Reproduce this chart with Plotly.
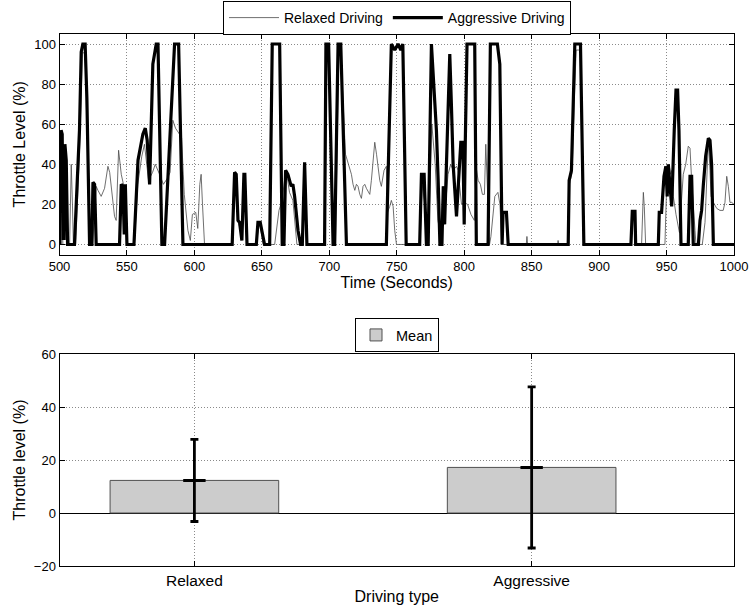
import plotly.graph_objects as go

# ---------------- data ----------------
relaxed_time = [500, 501.5, 502, 502.5, 507.5, 508.7, 509.6, 510.3, 512, 515, 517, 519, 521, 522.5,
                524.5, 527.2, 528.5, 530.9, 533.4, 535.9, 537.2, 540.8, 542, 543.8, 545.8, 547.5, 549, 550.5,
                555.5, 558, 561, 563, 566, 569, 571, 574.2, 577, 580, 582, 584, 586, 589, 590.5, 592.5,
                595.2, 597, 598.5, 601, 602.5, 604, 605, 606, 607.5,
                628.3, 629.8, 631, 632.5, 635, 636.8, 637.5, 639, 646.2, 647.5, 648.6, 651,
                659.5, 662.7, 665, 667, 668.5, 670.5, 673, 676, 680.2, 681.7, 683.2,
                696.8, 698, 699.5, 702.5, 704.5, 707, 708.5, 712, 714, 716.4, 717.6, 718.9, 720.1, 721.3,
                722.6, 723.8, 725, 726.3, 727.5, 730, 731.2, 733.7, 735, 737.4, 738.6, 740.6, 742.3,
                743.1, 744.8, 746, 747.3, 748.5, 749.8,
                767.3, 768.8, 770.5, 772, 773.5, 776, 778.5, 780.5, 782.5, 784.4, 786, 788, 790, 791.8,
                794.3, 795.5, 797, 798, 800, 802.5, 805, 807.5, 808.5, 809.2, 810.3, 812, 813.5, 815,
                816, 816.7, 818, 818.8, 819.8, 822.7, 825, 826.5, 827.8,
                846, 846.5, 847, 869.3, 869.6, 870,
                877.3, 878, 880, 881.5, 883, 886, 888.3,
                923.8, 924.8, 926.4, 926.9, 931.5, 932.8, 933.5, 934, 934.5,
                948.8, 950.5, 951.8, 953, 954, 955, 957, 959.5, 960.5, 961, 962.4, 964.2, 966.1, 967.4,
                968.6, 969.8, 971.1, 971.8, 976.5, 978.5, 981, 982.2, 983, 984.7, 987.2, 989.6, 992,
                993.3, 994.6, 995.8, 997, 998.3, 1000]
relaxed_throttle = [0, 0, 15, 0, 0, 40, 20, 0, 0, 50, 96, 95, 40, 0,
                    0, 29, 27, 24, 28, 39, 36, 14, 12, 47, 35, 30, 25, 0,
                    0, 30, 44, 50, 32, 36, 40, 35, 30, 33, 36, 62, 58, 55, 53, 25,
                    7, 2, 15, 16, 8, 30, 35, 20, 0,
                    0, 33, 33, 12, 4, 33, 33, 0, 0, 10, 10, 0,
                    0, 17, 22, 33, 35, 26, 22, 0, 0, 38, 0,
                    0, 97, 96, 0, 0, 97, 96, 45, 40, 35, 30, 27, 30, 29,
                    25, 23, 29, 30, 28, 25, 32, 51, 45, 32, 29, 37, 39,
                    16, 19, 22, 19, 7, 0,
                    0, 30, 22, 0, 0, 60, 40, 12, 5, 29, 18, 35, 40, 37,
                    39, 37, 25, 20, 21, 20, 15, 12, 30, 37, 32, 30, 25, 25,
                    50, 38, 10, 0, 4, 24, 26, 20, 0,
                    0, 4, 0, 0, 2, 0,
                    0, 30, 36, 70, 97, 97, 0,
                    0, 15, 15, 0, 0, 26, 19, 7, 0,
                    0, 39, 40, 35, 37, 24, 15, 6, 6, 21, 35, 40, 49, 48,
                    32, 17, 7, 0, 0, 11, 52, 37, 24, 21, 18, 17, 17,
                    21, 34, 29, 21, 21, 20]

aggressive_time = [500, 500.4, 501.2, 502, 502.7, 503.4, 504, 505, 506,
                   511.1, 514.8, 516.1, 517.3, 519, 520.3, 522.3, 524, 524.8, 526, 527.2,
                   544.5, 545.8, 547, 548, 548.8, 550,
                   555.2, 558.2, 561.8, 563.6, 565, 566.8, 569.2, 571.7, 573, 575.9,
                   577.9, 582.8, 585.3, 588.3, 591.5,
                   628, 629.8, 631, 632.3, 633.5, 635.2, 636.7, 637.4, 639,
                   645.9, 647.1, 648.8, 652, 655.8, 657.7, 663.2, 665.1,
                   666.4, 667.6, 669.3, 671.8, 673, 674.3, 676.8, 678.7, 680, 681.7, 683.4,
                   696.5, 697.5, 699.5, 702.8, 704, 706.5, 708.5, 712.7,
                   742.3, 746, 748.5, 751, 753, 754.5, 757,
                   767, 768.3, 770.3, 772, 773.3, 775.7, 778.2, 779.4, 780.7, 782,
                   783.5, 784.5, 785.5, 786.5, 787.8, 789.3, 790.5, 791.8, 794.3, 796, 797.5, 799, 800,
                   800.8, 802.1, 807.8, 809, 817.7, 819.4, 824.6, 826.4, 828.1, 828.8, 831.3, 832.6,
                   877.1, 877.8, 879.5, 881, 882, 886.2, 888.7,
                   923.6, 924.6, 926.6, 927.1,
                   943.9, 944.6, 946.3, 948.1, 949.5, 950.5, 951.3, 952.5, 953.8, 955.7, 957, 958.2,
                   959.2, 960.7, 966.1, 967.4, 968.6, 969.8,
                   973.6, 974.8, 976, 977.3, 979, 981, 982.2, 983.4, 984.7, 1000]
aggressive_throttle = [0, 45, 57, 55, 3, 3, 50, 42, 0,
                       0, 57, 96, 100, 100, 73, 0, 0, 31, 30, 0,
                       0, 30, 29, 5, 30, 0,
                       0, 42, 55, 58, 52, 30, 90, 100, 100, 0,
                       0, 63, 100, 100, 0,
                       0, 36, 35, 12, 11, 2, 35, 35, 0,
                       0, 11, 11, 0, 0, 100, 100, 0,
                       0, 37, 35, 29, 30, 24, 7, 0, 0, 41, 0,
                       0, 100, 100, 0, 0, 100, 100, 0,
                       0, 100, 97, 100, 97, 100, 0,
                       0, 35, 35, 0, 0, 100, 73, 57, 32, 0,
                       0, 29, 10, 30, 60, 95, 70, 40, 14, 35, 51, 51, 10,
                       51, 100, 100, 0, 0, 100, 100, 90, 0, 16, 16, 0,
                       0, 32, 37, 70, 100, 100, 0,
                       0, 16.5, 16.5, 0,
                       0, 16, 16, 34, 39, 24, 40, 29, 19, 57, 77, 77,
                       57, 0, 0, 34, 34, 0,
                       0, 12, 17, 30, 44, 53, 52, 40, 0, 0]

driving_types = ["Relaxed", "Aggressive"]
driving_pos = [1, 2]
mean_throttle = [12.3, 17.2]
std_throttle = [15.5, 30.4]

time_ticks = [500, 550, 600, 650, 700, 750, 800, 850, 900, 950, 1000]
level_ticks = [0, 20, 40, 60, 80, 100]
bar_ticks = [-20, 0, 20, 40, 60]

# ---------------- figure ----------------
W, H = 752, 610
FONT = "Liberation Sans, Arial, sans-serif"


def px_x(p):
    return p / W


def px_y(p):
    return 1 - p / H


fig = go.Figure()

fig.add_trace(go.Scatter(x=relaxed_time, y=relaxed_throttle, mode="lines",
                         name="Relaxed Driving", line=dict(color="#4a4a4a", width=0.8),
                         xaxis="x", yaxis="y", legend="legend"))
fig.add_trace(go.Scatter(x=aggressive_time, y=aggressive_throttle, mode="lines",
                         name="Aggressive Driving", line=dict(color="black", width=3.2),
                         xaxis="x", yaxis="y", legend="legend"))

fig.add_trace(go.Bar(x=driving_pos, y=mean_throttle, width=0.5, name="Mean",
                     marker=dict(color="#cccccc", line=dict(color="#505050", width=1)),
                     error_y=dict(type="data", array=std_throttle, visible=True,
                                  color="black", thickness=2.8, width=4),
                     xaxis="x2", yaxis="y2", legend="legend2"))
fig.add_trace(go.Scatter(x=driving_pos, y=mean_throttle, mode="markers", showlegend=False,
                         marker=dict(symbol="line-ew", size=16,
                                     line=dict(color="black", width=3)),
                         xaxis="x2", yaxis="y2", hoverinfo="skip"))

axis_common = dict(showline=True, linecolor="black", linewidth=1, mirror="ticks",
                   ticks="inside", ticklen=5, tickcolor="black", tickwidth=1,
                   showgrid=True, gridcolor="#8a8a8a", griddash="1px,2px", gridwidth=1,
                   zeroline=False, automargin=False,
                   tickfont=dict(family=FONT, size=13, color="black"))

top_dom_y = [px_y(254.5), px_y(34)]
bot_dom_y = [px_y(566), px_y(354)]
dom_x = [px_x(59.5), px_x(734)]

title_font = dict(family=FONT, size=16, color="black")

fig.update_layout(
    width=W, height=H,
    margin=dict(l=0, r=0, t=0, b=0),
    paper_bgcolor="white", plot_bgcolor="white",
    font=dict(family=FONT, size=13, color="black"),
    xaxis=dict(axis_common, domain=dom_x, anchor="y", range=[500, 1000], tickvals=time_ticks,
               title=dict(text="Time (Seconds)", standoff=3, font=title_font)),
    yaxis=dict(axis_common, domain=top_dom_y, anchor="x", range=[-5, 105], tickvals=level_ticks,
               title=dict(text="Throttle Level (%)", standoff=4, font=title_font)),
    xaxis2=dict(axis_common, domain=dom_x, anchor="y2", range=[0.6, 2.6], tickvals=driving_pos,
                ticktext=driving_types, tickfont=dict(family=FONT, size=15.5, color="black"),
                title=dict(text="Driving type", standoff=3, font=title_font)),
    yaxis2=dict(axis_common, domain=bot_dom_y, anchor="x2", range=[-20, 60], tickvals=bar_ticks,
                zeroline=True, zerolinecolor="black", zerolinewidth=1,
                title=dict(text="Throttle level (%)", standoff=4, font=title_font)),
    legend=dict(orientation="h", x=px_x(397), xanchor="center", y=px_y(1), yanchor="top",
                bordercolor="black", borderwidth=1, bgcolor="white",
                font=dict(family=FONT, size=14), itemwidth=50, tracegroupgap=0),
    legend2=dict(orientation="h", x=px_x(397), xanchor="center", y=px_y(318), yanchor="top",
                 bordercolor="black", borderwidth=1, bgcolor="white",
                 font=dict(family=FONT, size=14.5)),
    showlegend=True,
)

fig.write_html("out.html", config={"displayModeBar": False},
               post_script="document.body.style.margin='0px';document.body.style.padding='0px';")
